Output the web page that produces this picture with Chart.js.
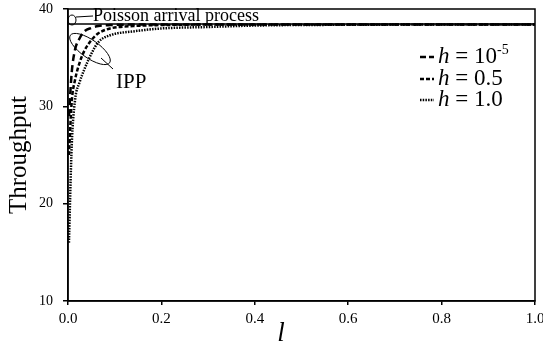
<!DOCTYPE html>
<html>
<head>
<meta charset="utf-8">
<script src="https://cdn.jsdelivr.net/npm/chart.js@4/dist/chart.umd.min.js"></script>
<style>
  html, body { margin: 0; padding: 0; background: #fff; }
  #wrap { width: 543px; height: 352px; }
</style>
</head>
<body>
<div id="wrap"><canvas id="chart" width="543" height="352"></canvas></div>
<script>
// values
const lValues = [0.002, 0.008, 0.015, 0.025, 0.035, 0.05, 0.065, 0.09, 0.14, 0.2, 0.3, 0.4, 0.6, 0.8, 1.0];
const hTiny = [29, 33.5, 35.8, 37.0, 37.7, 38.05, 38.25, 38.35, 38.4, 38.4, 38.4, 38.4, 38.4, 38.4, 38.4];
const hHalf = [25, 30.5, 32.7, 34.5, 35.7, 36.8, 37.5, 38.0, 38.25, 38.35, 38.4, 38.4, 38.4, 38.4, 38.4];
const hOne = [16, 26, 30.6, 32.5, 33.8, 35.4, 36.6, 37.3, 37.7, 38.0, 38.15, 38.3, 38.38, 38.4, 38.4];
const poissonL = [0, 1];
const poissonValues = [38.45, 38.45];
const xTicks = [0, 0.2, 0.4, 0.6, 0.8, 1.0];
const yTicks = [10, 20, 30, 40];

const serif = "'Liberation Serif', 'DejaVu Serif', serif";

function pairs(xs, ys) {
    return xs.map((x, i) => ({ x: x, y: ys[i] }));
}

function lineSet(label, xs, ys, dash, width) {
    return {
        label: label,
        data: pairs(xs, ys),
        borderColor: "#000",
        borderWidth: width,
        borderDash: dash,
        pointRadius: 0,
        fill: false,
        cubicInterpolationMode: "monotone"
    };
}

function noPad(axis) {
    axis.paddingLeft = 0;
    axis.paddingRight = 0;
    axis.paddingTop = 0;
    axis.paddingBottom = 0;
}

const extras = {
    id: "extras",
    afterDraw(chart) {
        let ctx = chart.ctx;
        let a = chart.chartArea;
        ctx.save();
        ctx.strokeStyle = "#000";
        ctx.lineWidth = 1.5;
        ctx.strokeRect(a.left, a.top, a.right - a.left, a.bottom - a.top);

        // poisson annotation
        ctx.lineWidth = 1;
        ctx.beginPath();
        ctx.ellipse(72, 20, 4, 5, 0, 0, Math.PI * 2);
        ctx.stroke();
        ctx.beginPath();
        ctx.moveTo(76, 17);
        ctx.lineTo(93, 16);
        ctx.stroke();
        ctx.fillStyle = "#000";
        ctx.font = "18px " + serif;
        ctx.textBaseline = "middle";
        ctx.textAlign = "left";
        ctx.fillText("Poisson arrival process", 93, 16);

        // IPP annotation
        ctx.beginPath();
        ctx.ellipse(90, 49, 24, 9, 35 * Math.PI / 180, 0, Math.PI * 2);
        ctx.stroke();
        ctx.beginPath();
        ctx.moveTo(101, 58);
        ctx.lineTo(113, 69);
        ctx.stroke();
        ctx.font = "21px " + serif;
        ctx.fillText("IPP", 116, 82);

        // legend
        let rows = [
            { dash: [6, 3], sup: true, txt: "10", y: 57 },
            { dash: [4, 2], sup: false, txt: "0.5", y: 79 },
            { dash: [1.5, 1.2], sup: false, txt: "1.0", y: 100 }
        ];
        rows.forEach(r => {
            ctx.setLineDash(r.dash);
            ctx.lineWidth = 2.5;
            ctx.beginPath();
            ctx.moveTo(420, r.y);
            ctx.lineTo(434, r.y);
            ctx.stroke();
            ctx.setLineDash([]);
            ctx.font = "italic 23px " + serif;
            ctx.fillText("h", 438, r.y);
            let x = 438 + ctx.measureText("h").width;
            ctx.font = "23px " + serif;
            ctx.fillText(" = " + r.txt, x, r.y);
            x += ctx.measureText(" = " + r.txt).width;
            if (r.sup) {
                ctx.font = "14px " + serif;
                ctx.fillText("-5", x, r.y - 7);
            }
        });

        // x axis title
        ctx.font = "italic 27px " + serif;
        ctx.textAlign = "center";
        ctx.fillText("l", 281, 334);
        ctx.restore();
    }
};

new Chart(document.getElementById("chart"), {
    type: "line",
    data: {
        datasets: [
            lineSet("h = 10-5", lValues, hTiny, [7, 4], 2.5),
            lineSet("h = 0.5", lValues, hHalf, [4, 2], 2.5),
            lineSet("h = 1.0", lValues, hOne, [1.5, 1.2], 2.5),
            {
                label: "Poisson arrival process",
                data: pairs(poissonL, poissonValues),
                borderColor: "#000",
                borderWidth: 1.5,
                pointRadius: 0,
                fill: false
            }
        ]
    },
    options: {
        responsive: false,
        animation: false,
        layout: { padding: { top: 9, right: 8, left: 0, bottom: 0 } },
        plugins: {
            legend: { display: false },
            tooltip: { enabled: false }
        },
        scales: {
            x: {
                type: "linear",
                min: 0,
                max: 1,
                afterBuildTicks: axis => { axis.ticks = xTicks.map(v => ({ value: v })); },
                afterFit: axis => { axis.height = 51; noPad(axis); },
                grid: { drawOnChartArea: false, tickLength: 4, color: "#000", lineWidth: 1.5 },
                border: { color: "#000", width: 1.5 },
                ticks: {
                    color: "#000",
                    padding: 5,
                    font: { family: serif, size: 15 },
                    callback: v => v.toFixed(1),
                    maxRotation: 0
                },
                title: { display: false }
            },
            y: {
                min: 10,
                max: 40,
                afterBuildTicks: axis => { axis.ticks = yTicks.map(v => ({ value: v })); },
                afterFit: axis => { axis.width = 68; noPad(axis); },
                grid: { drawOnChartArea: false, tickLength: 5, color: "#000", lineWidth: 1.5 },
                border: { color: "#000", width: 1.5 },
                ticks: {
                    color: "#000",
                    padding: 10,
                    font: { family: serif, size: 14 }
                },
                title: {
                    display: true,
                    text: "Throughput",
                    color: "#000",
                    padding: { bottom: 2 },
                    font: { family: serif, size: 25 }
                }
            }
        }
    },
    plugins: [extras]
});
</script>
</body>
</html>
